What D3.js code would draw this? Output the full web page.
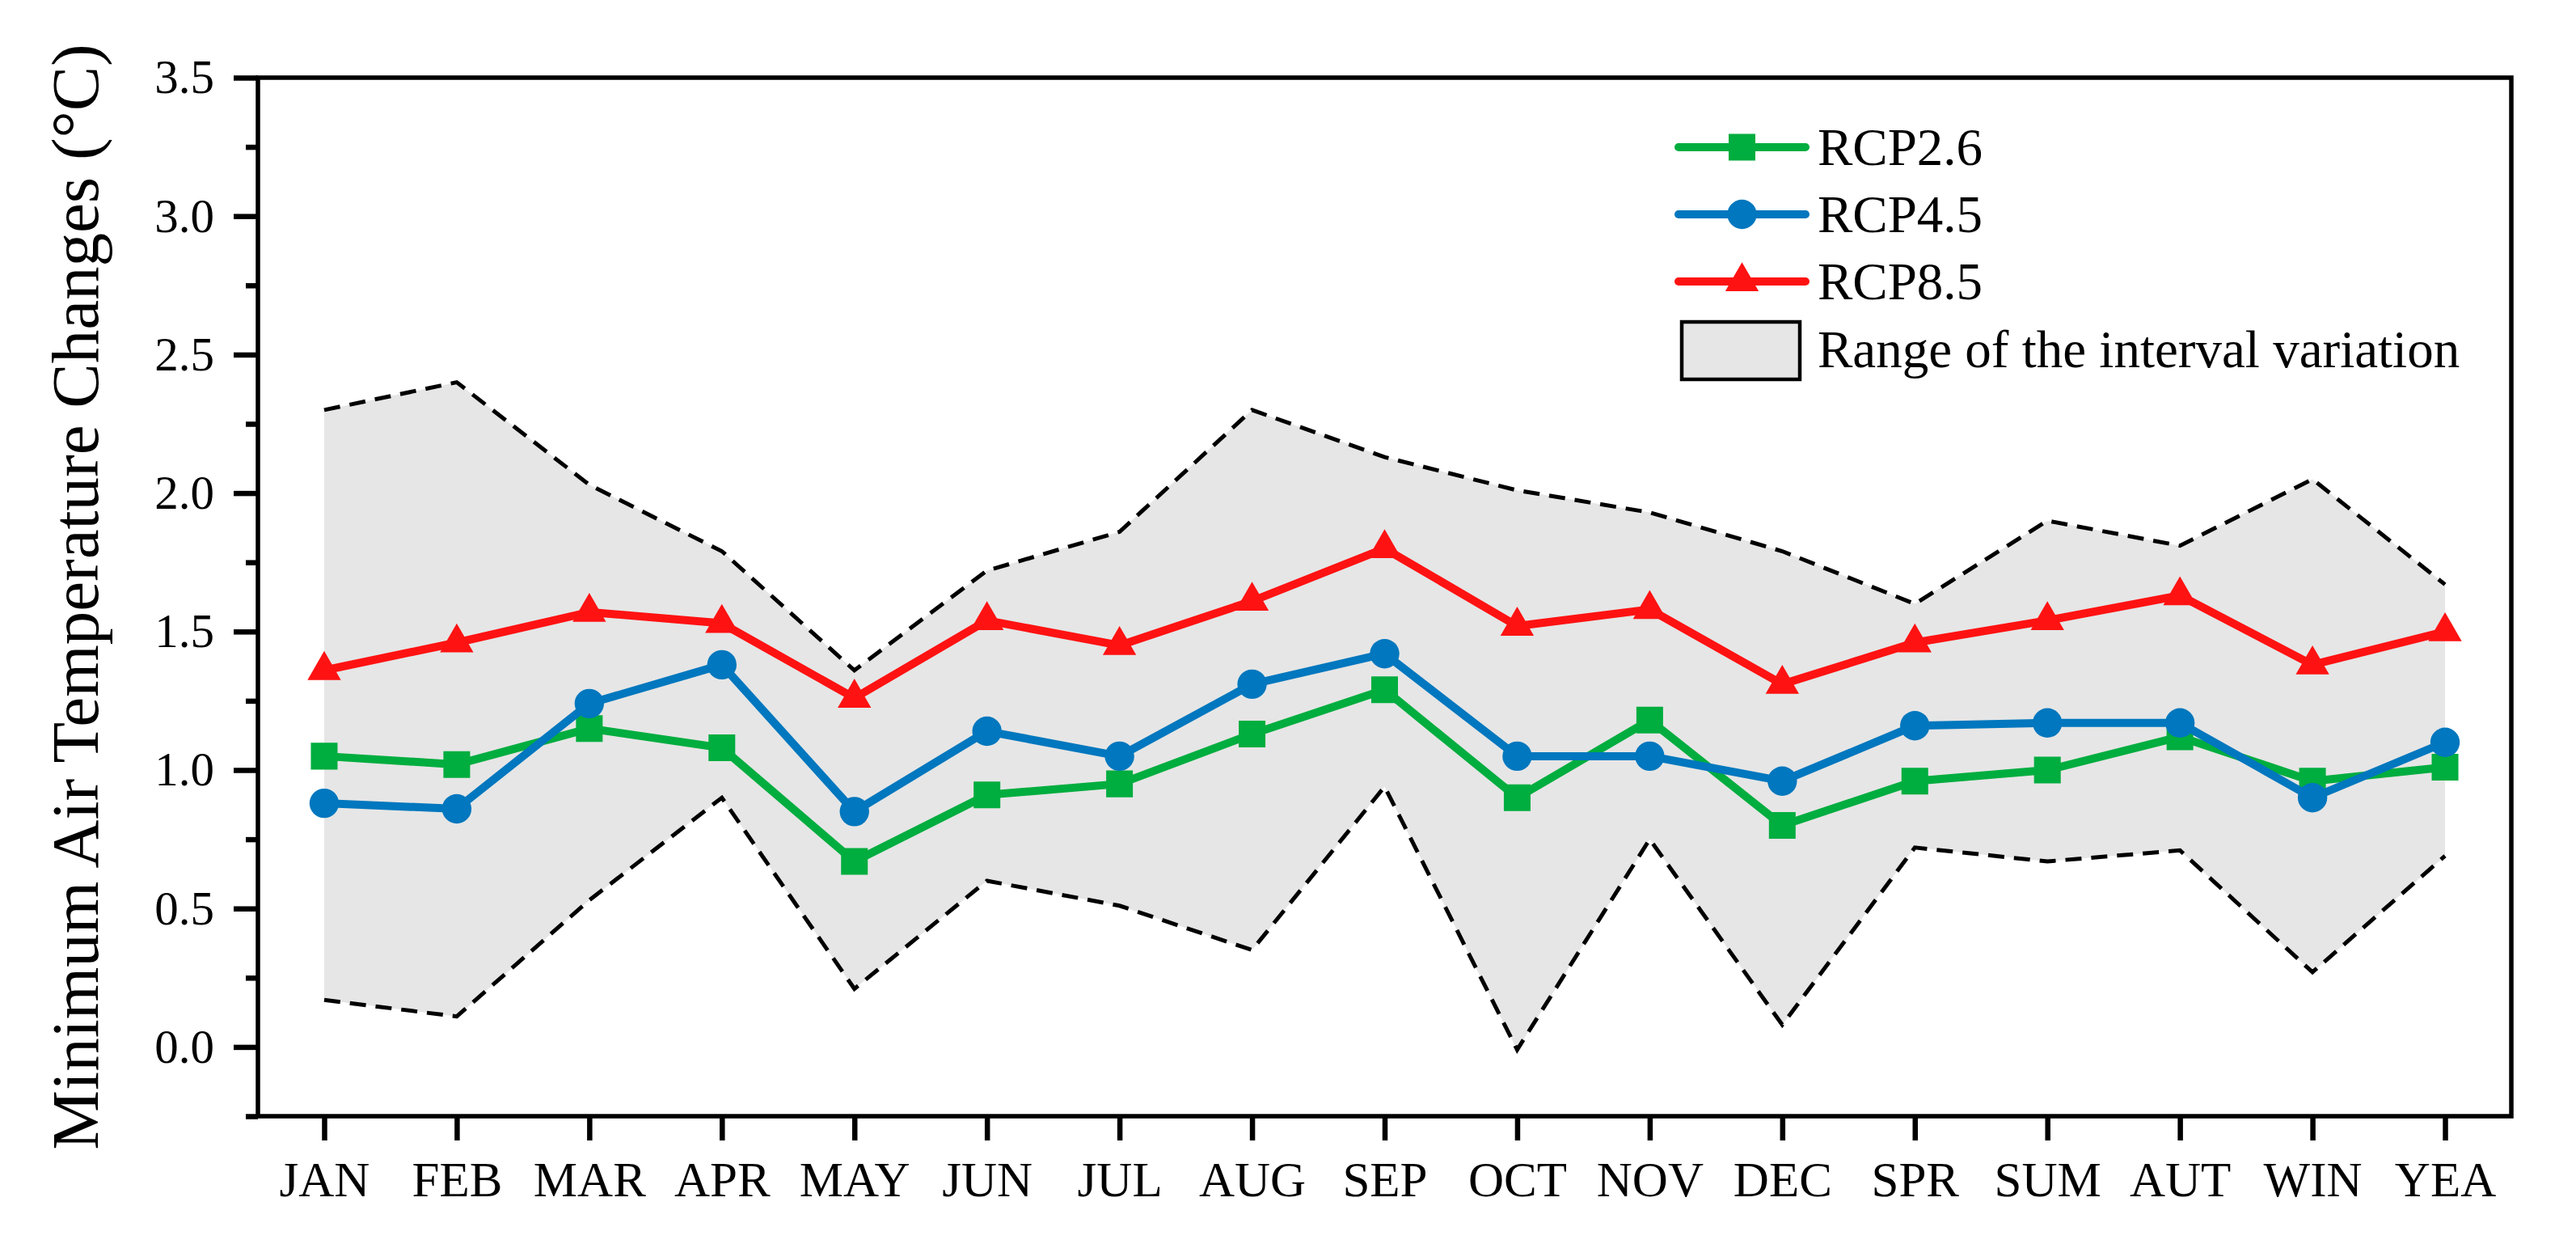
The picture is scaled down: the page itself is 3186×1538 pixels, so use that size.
<!DOCTYPE html>
<html>
<head>
<meta charset="utf-8">
<script src="https://cdn.jsdelivr.net/npm/d3@7"></script>
<style>
	body { margin: 0; background: #fff; }
	text { font-family: "Liberation Serif", "Times New Roman", serif; fill: #000; }
</style>
</head>
<body>
<svg id="chart"></svg>
<script>
// categories on the x axis
const categories = ["JAN", "FEB", "MAR", "APR", "MAY", "JUN", "JUL", "AUG", "SEP",
	"OCT", "NOV", "DEC", "SPR", "SUM", "AUT", "WIN", "YEA"];

// series values
const rcp26 = [1.05, 1.02, 1.15, 1.08, 0.67, 0.91, 0.95, 1.13, 1.29, 0.90, 1.18, 0.80, 0.96, 1.00, 1.12, 0.96, 1.01];
const rcp45 = [0.88, 0.86, 1.24, 1.38, 0.85, 1.14, 1.05, 1.31, 1.42, 1.05, 1.05, 0.96, 1.16, 1.17, 1.17, 0.90, 1.10];
const rcp85 = [1.36, 1.46, 1.57, 1.53, 1.26, 1.54, 1.45, 1.61, 1.80, 1.52, 1.58, 1.31, 1.46, 1.54, 1.63, 1.38, 1.50];

// interval variation range
const rangeUpper = [2.30, 2.40, 2.03, 1.79, 1.36, 1.72, 1.86, 2.30, 2.13, 2.01, 1.93, 1.79, 1.60, 1.90, 1.81, 2.05, 1.67];
const rangeLower = [0.17, 0.11, 0.53, 0.90, 0.21, 0.60, 0.51, 0.35, 0.94, -0.01, 0.75, 0.08, 0.72, 0.67, 0.71, 0.27, 0.69];

// tick values for the y axis
const yMajorTicks = [0.0, 0.5, 1.0, 1.5, 2.0, 2.5, 3.0, 3.5];
const yMinorTicks = [-0.25, 0.25, 0.75, 1.25, 1.75, 2.25, 2.75, 3.25];

const seriesNames = ["RCP2.6", "RCP4.5", "RCP8.5"];
const rangeName = "Range of the interval variation";
const yTitle = "Minimum Air Temperature Changes (\u00B0C)";

document.addEventListener("DOMContentLoaded", function () {
	const w = 3186;
	const h = 1538;
	const left = 319, right = 3106, top = 96, bottom = 1380;

	const svg = d3.select("#chart").attr("width", w).attr("height", h);
	svg.append("rect").attr("width", w).attr("height", h).attr("fill", "#fff");

	const xScale = d3.scalePoint().domain(categories).range([left, right]).padding(0.5);
	const yScale = d3.scaleLinear().domain([-0.25, 3.5]).range([bottom, top]);

	// grey band + dashed edges
	const area = d3.area()
		.x((d, i) => xScale(categories[i]))
		.y0((d, i) => yScale(rangeLower[i]))
		.y1((d) => yScale(d));
	svg.append("path").datum(rangeUpper).attr("d", area).attr("fill", "#e6e6e6");

	const line = d3.line().x((d, i) => xScale(categories[i])).y((d) => yScale(d));
	[rangeUpper, rangeLower].forEach((arr) => {
		svg.append("path").datum(arr).attr("d", line)
			.attr("fill", "none").attr("stroke", "#000")
			.attr("stroke-width", 5).attr("stroke-dasharray", "20,12");
	});

	// series, drawn green -> blue -> red
	const series = [
		{ name: seriesNames[0], values: rcp26, color: "#00ad3f", symbol: d3.symbolSquare, size: 1090 },
		{ name: seriesNames[1], values: rcp45, color: "#0077be", symbol: d3.symbolCircle, size: 1040 },
		{ name: seriesNames[2], values: rcp85, color: "#ff1212", symbol: d3.symbolTriangle, size: 740 },
	];

	series.forEach((s) => {
		svg.append("path").datum(s.values).attr("d", line)
			.attr("fill", "none").attr("stroke", s.color)
			.attr("stroke-width", 10).attr("stroke-linejoin", "round");
		svg.append("g").selectAll("path")
			.data(s.values)
			.enter()
			.append("path")
			.attr("d", d3.symbol().type(s.symbol).size(s.size))
			.attr("transform", (d, i) => `translate(${xScale(categories[i])},${yScale(d)})`)
			.attr("fill", s.color);
	});

	// axes
	const yMinor = d3.axisLeft(yScale).tickValues(yMinorTicks).tickSize(15).tickSizeOuter(0).tickFormat("");
	const yMajor = d3.axisLeft(yScale).tickValues(yMajorTicks).tickSize(30).tickSizeOuter(0)
		.tickPadding(24).tickFormat(d3.format(".1f"));
	const xAxis = d3.axisBottom(xScale).tickSize(30).tickSizeOuter(0).tickPadding(26);

	const gyMinor = svg.append("g").attr("transform", `translate(${left},0)`).call(yMinor);
	const gyMajor = svg.append("g").attr("transform", `translate(${left},0)`).call(yMajor);
	const gx = svg.append("g").attr("transform", `translate(0,${bottom})`).call(xAxis);

	[gyMinor, gyMajor, gx].forEach((g) => {
		g.select(".domain").remove();
		g.selectAll(".tick line").attr("stroke", "#000").attr("stroke-width", 6.5);
		g.selectAll("text").style("font-size", "59px").attr("fill", "#000");
	});
	gx.selectAll("text").style("font-size", "61px").attr("dy", "0.71em");

	// frame
	svg.append("rect")
		.attr("x", left).attr("y", top)
		.attr("width", right - left).attr("height", bottom - top)
		.attr("fill", "none").attr("stroke", "#000").attr("stroke-width", 5.5);

	// y title
	svg.append("text")
		.attr("transform", `translate(121,${(top + bottom) / 2}) rotate(-90)`)
		.attr("text-anchor", "middle")
		.style("font-size", "83px")
		.text(yTitle);

	// legend
	const legX1 = 2076, legX2 = 2233, legText = 2248;
	const rowY = [182, 265, 348, 433];
	series.forEach((s, i) => {
		const g = svg.append("g");
		g.append("line")
			.attr("x1", legX1).attr("x2", legX2)
			.attr("y1", rowY[i]).attr("y2", rowY[i])
			.attr("stroke", s.color).attr("stroke-width", 10).attr("stroke-linecap", "round");
		g.append("path")
			.attr("d", d3.symbol().type(s.symbol).size(s.size))
			.attr("transform", `translate(${(legX1 + legX2) / 2},${rowY[i]})`)
			.attr("fill", s.color);
		g.append("text")
			.attr("x", legText).attr("y", rowY[i] + 22)
			.style("font-size", "65px")
			.text(s.name);
	});
	svg.append("rect")
		.attr("x", 2080).attr("y", 398)
		.attr("width", 146).attr("height", 71)
		.attr("fill", "#e6e6e6").attr("stroke", "#000").attr("stroke-width", 4.5);
	svg.append("text")
		.attr("x", legText).attr("y", 454)
		.style("font-size", "65px")
		.text(rangeName);
});
</script>
</body>
</html>
